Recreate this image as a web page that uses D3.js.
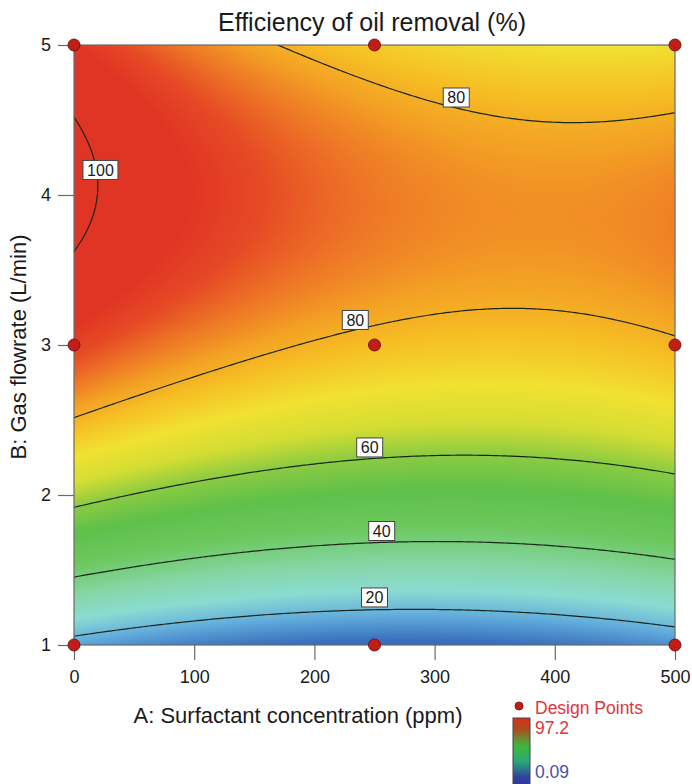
<!DOCTYPE html>
<html lang="en">
<head>
<meta charset="utf-8">
<title>Efficiency of oil removal (%)</title>
<script src="https://d3js.org/d3.v7.min.js"></script>
<style>
  body { margin: 0; background: #fff; }
  svg text { font-family: "Liberation Sans", Arial, sans-serif; fill: #1a1a1a; }
  .contour { fill: none; stroke: #1b261b; stroke-width: 1.2; }
  .clabel rect { fill: #fff; stroke: #444; stroke-width: 1; }
</style>
</head>
<body>
<div id="chart"></div>
<script>
// design levels (points of the experiment)
var surfactant = [0, 250, 500];   // A: ppm
var flowrate = [1, 3, 5];         // B: L/min

// fitted quadratic model, coded units: a = (A-250)/250, b = (B-3)/2
var modelTerms = ["1", "a", "b", "ab", "a2", "b2"];
var modelCoefs = [77.95, -6.16, 33.83, -4.8, 7.36, -36.07];

var contourLevels = [20, 40, 60, 80, 100];
var xTicks = [0, 100, 200, 300, 400, 500];
var yTicks = [1, 2, 3, 4, 5];
var rangeLabels = ["97.2", "0.09"];

// where the contour labels sit (A, B of the box centre)
var labelLevels = [100, 80, 80, 60, 40, 20];
var labelA = [22, 318, 234, 246, 256, 250];
var labelB = [4.167, 4.65, 3.167, 2.317, 1.76, 1.317];

// colour ramp of the surface
var rampValues = [0, 10, 18, 26, 34, 44, 53, 60, 66, 72, 78, 82, 86, 90, 94];
var rampColors = ["#2c46a2", "#3a72bf", "#62acdc", "#8adcd2", "#86d6a6", "#6cc85e",
                  "#5fc04a", "#8acb42", "#d4dd33", "#f1e131", "#f6be24", "#f3a024",
                  "#ee7626", "#e64a25", "#e03424"];

var W = 692, H = 784;
var margin = {left: 74, top: 45};
var pw = 601, ph = 600;

var x = d3.scaleLinear().domain([0, 500]).range([margin.left, margin.left + pw]);
var y = d3.scaleLinear().domain([1, 5]).range([margin.top + ph, margin.top]);
var color = d3.scaleLinear().domain(rampValues).range(rampColors)
    .interpolate(d3.interpolateRgb).clamp(true);

function predict(A, B) {
    var a = (A - 250) / 250, b = (B - 3) / 2;
    var t = [1, a, b, a * b, a * a, b * b];
    return d3.sum(t, function (v, i) { return v * modelCoefs[i]; });
}

var svg = d3.select("#chart").append("svg")
    .attr("width", W).attr("height", H);

var defs = svg.append("defs");
defs.append("clipPath").attr("id", "plotclip")
  .append("rect").attr("x", margin.left).attr("y", margin.top)
  .attr("width", pw).attr("height", ph);

// filled surface, painted into a canvas pixel by pixel
var canvas = document.createElement("canvas");
canvas.width = pw; canvas.height = ph;
var ctx = canvas.getContext("2d");
var img = ctx.createImageData(pw, ph);
for (var j = 0; j < ph; j++) {
    for (var i = 0; i < pw; i++) {
        var c = d3.rgb(color(predict(x.invert(margin.left + i + 0.5), y.invert(margin.top + j + 0.5))));
        var k = (j * pw + i) * 4;
        img.data[k] = c.r; img.data[k + 1] = c.g; img.data[k + 2] = c.b; img.data[k + 3] = 255;
    }
}
ctx.putImageData(img, 0, 0);
svg.append("image").attr("x", margin.left).attr("y", margin.top)
    .attr("width", pw).attr("height", ph)
    .attr("href", canvas.toDataURL());

// contour lines on a grid a little larger than the plot, then clipped
var step = 3, pad = 15;
var gx0 = margin.left - pad, gy0 = margin.top - pad;
var nx = Math.ceil((pw + 2 * pad) / step) + 1, ny = Math.ceil((ph + 2 * pad) / step) + 1;
var grid = new Array(nx * ny);
for (var gj = 0; gj < ny; gj++) {
    for (var gi = 0; gi < nx; gi++) {
        grid[gj * nx + gi] = predict(x.invert(gx0 + gi * step), y.invert(gy0 + gj * step));
    }
}
var contours = d3.contours().size([nx, ny]).thresholds(contourLevels)(grid);

function ringPath(ring) {
    return "M" + ring.map(function (p) {
        return [gx0 + (p[0] - 0.5) * step, gy0 + (p[1] - 0.5) * step].join(",");
    }).join("L") + "Z";
}

svg.append("g").attr("clip-path", "url(#plotclip)")
  .selectAll("path")
  .data(contours)
  .enter()
  .append("path")
  .attr("class", "contour")
  .attr("d", function (d) {
      return d.coordinates.map(function (poly) {
          return poly.map(ringPath).join("");
      }).join("");
  });

// frame
svg.append("rect").attr("x", margin.left).attr("y", margin.top)
    .attr("width", pw).attr("height", ph)
    .attr("fill", "none").attr("stroke", "#6a6a6a").attr("stroke-width", 1.2);

// axes
var xAxis = svg.append("g").attr("transform", "translate(0," + (margin.top + ph) + ")")
    .call(d3.axisBottom(x).tickValues(xTicks).tickFormat(d3.format("d")).tickSize(15).tickPadding(10));
var yAxis = svg.append("g").attr("transform", "translate(" + margin.left + ",0)")
    .call(d3.axisLeft(y).tickValues(yTicks).tickFormat(d3.format("d")).tickSize(16).tickPadding(7));
[xAxis, yAxis].forEach(function (g) {
    g.select(".domain").remove();
    g.selectAll(".tick line").attr("stroke", "#6a6a6a").attr("stroke-width", 1.2);
    g.selectAll(".tick text").style("font-size", "18px")
        .style("font-family", "'Liberation Sans', Arial, sans-serif").attr("fill", "#1a1a1a");
});

// contour labels
var lab = svg.append("g").selectAll("g")
    .data(labelLevels)
    .enter()
    .append("g")
    .attr("class", "clabel")
    .attr("transform", function (d, i) {
        return "translate(" + x(labelA[i]) + "," + y(labelB[i]) + ")";
    });
lab.append("rect")
    .attr("x", function (d) { return String(d).length > 2 ? -17.5 : -13; })
    .attr("y", -9.5)
    .attr("width", function (d) { return String(d).length > 2 ? 35 : 26; })
    .attr("height", 19);
lab.append("text")
    .attr("text-anchor", "middle")
    .attr("dy", "0.36em")
    .style("font-size", "16px")
    .text(function (d) { return d; });

// design points
var pts = [];
surfactant.forEach(function (a) { flowrate.forEach(function (b) { pts.push([a, b]); }); });
svg.append("g").selectAll("circle")
    .data(pts)
    .enter()
    .append("circle")
    .attr("cx", function (d) { return x(d[0]); })
    .attr("cy", function (d) { return y(d[1]); })
    .attr("r", 6)
    .attr("fill", "#c21d18")
    .attr("stroke", "#6e0e0e")
    .attr("stroke-width", 0.9);

// titles
svg.append("text").attr("x", 372).attr("y", 31)
    .attr("text-anchor", "middle").style("font-size", "25px")
    .text("Efficiency of oil removal (%)");
svg.append("text").attr("x", 298).attr("y", 723)
    .attr("text-anchor", "middle").style("font-size", "22px")
    .text("A: Surfactant concentration (ppm)");
svg.append("text")
    .attr("transform", "translate(26,347) rotate(-90)")
    .attr("text-anchor", "middle").style("font-size", "22px")
    .text("B: Gas flowrate (L/min)");

// legend
var leg = svg.append("g");
leg.append("circle").attr("cx", 519).attr("cy", 706).attr("r", 4)
    .attr("fill", "#c21d18").attr("stroke", "#6e0e0e").attr("stroke-width", 0.8);
leg.append("text").attr("x", 535).attr("y", 714).style("font-size", "17.5px")
    .style("fill", "#e0353a").text("Design Points");

var grad = defs.append("linearGradient").attr("id", "legendgrad")
    .attr("x1", 0).attr("y1", 0).attr("x2", 0).attr("y2", 1);
grad.selectAll("stop")
    .data([[0, "#d83020"], [0.15, "#b04a1e"], [0.4, "#3cb83c"], [0.62, "#2aa878"], [0.85, "#3040a0"], [1, "#2c3a98"]])
    .enter()
    .append("stop")
    .attr("offset", function (d) { return d[0]; })
    .attr("stop-color", function (d) { return d[1]; });
leg.append("rect").attr("x", 513).attr("y", 718).attr("width", 17).attr("height", 70)
    .attr("fill", "url(#legendgrad)").attr("stroke", "#444").attr("stroke-width", 1);
leg.append("text").attr("x", 535).attr("y", 734).style("font-size", "17.5px")
    .style("fill", "#e0353a").text(rangeLabels[0]);
leg.append("text").attr("x", 535).attr("y", 777.5).style("font-size", "17.5px")
    .style("fill", "#4452b0").text(rangeLabels[1]);
</script>
</body>
</html>
